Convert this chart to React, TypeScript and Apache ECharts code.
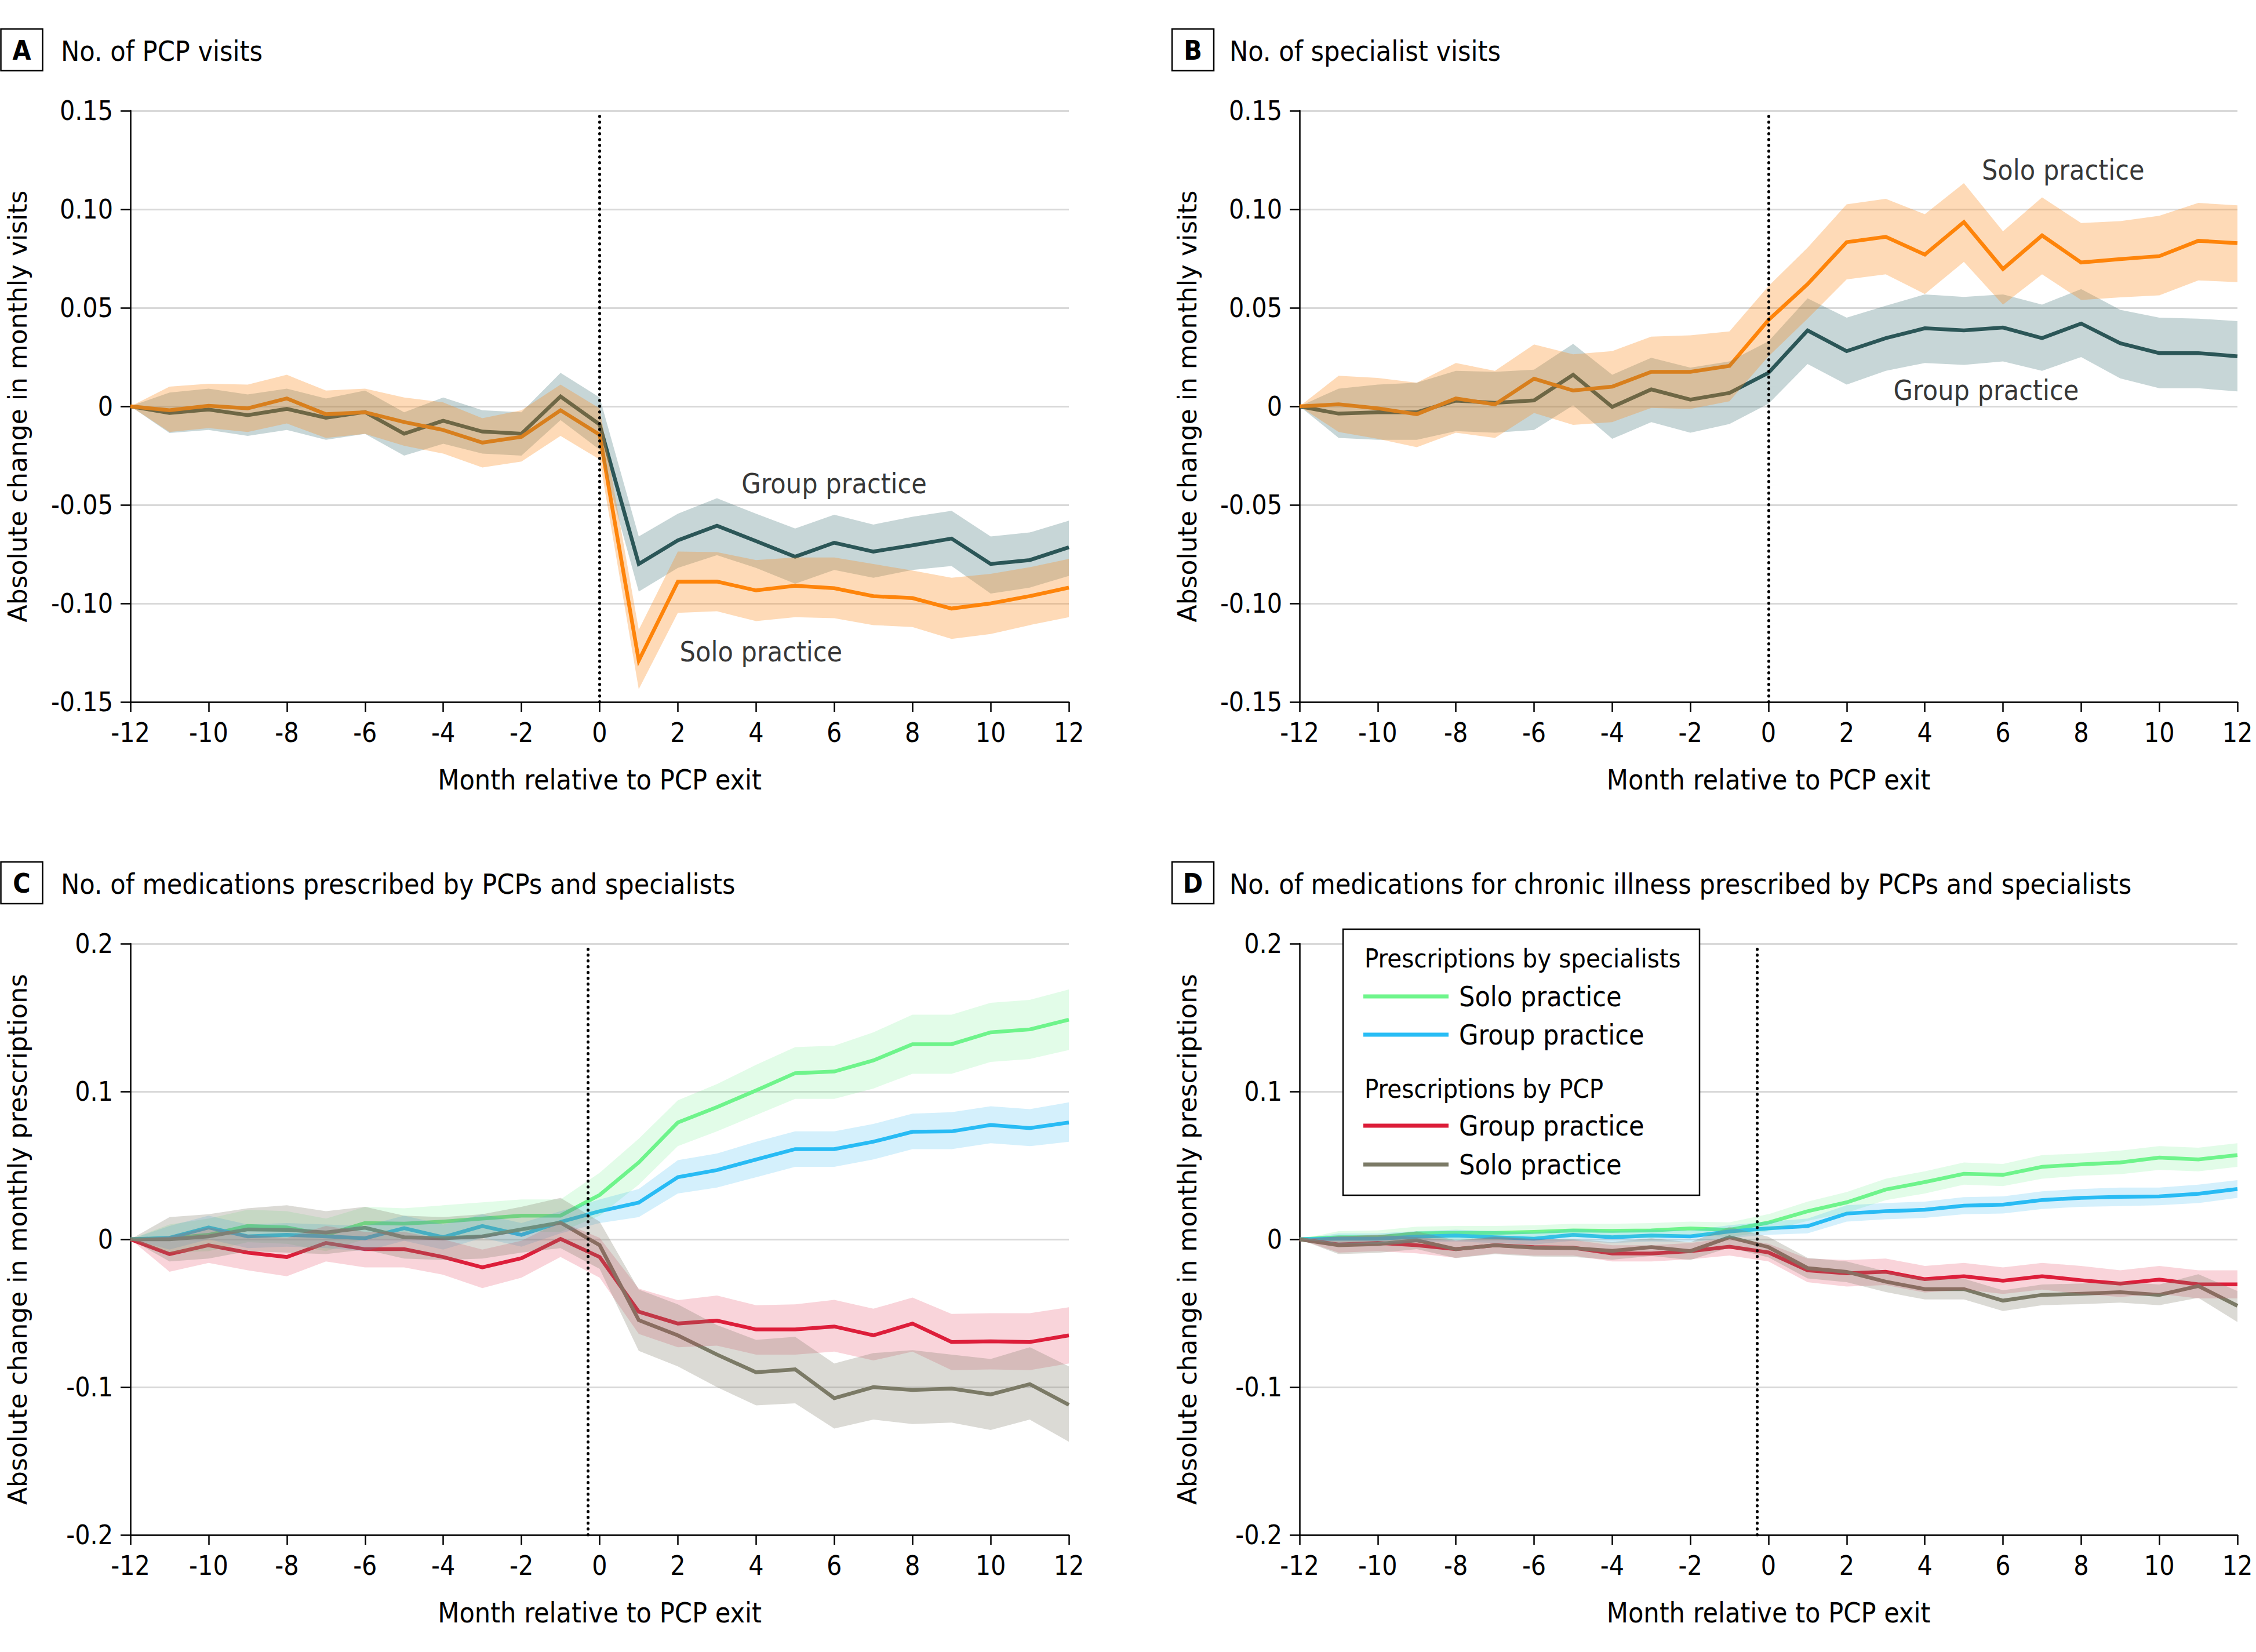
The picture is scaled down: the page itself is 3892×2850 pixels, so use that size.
import React, { useEffect, useRef } from "react";
import * as echarts from "echarts";

const months = [-12, -11, -10, -9, -8, -7, -6, -5, -4, -3, -2, -1, 0, 1, 2, 3, 4, 5, 6, 7, 8, 9, 10, 11, 12];
const xTickLabels = ["-12", "-10", "-8", "-6", "-4", "-2", "0", "2", "4", "6", "8", "10", "12"];
const yTickLabelsAB = ["-0.15", "-0.10", "-0.05", "0", "0.05", "0.10", "0.15"];
const yTickLabelsCD = ["-0.2", "-0.1", "0", "0.1", "0.2"];

// Panel A: PCP visits
const aGroupMean = [0, -0.0034, -0.0016, -0.0045, -0.0013, -0.0058, -0.0029, -0.0139, -0.0073, -0.0128, -0.0139, 0.005, -0.0092, -0.08, -0.068, -0.0606, -0.0684, -0.0763, -0.0692, -0.0737, -0.0705, -0.0671, -0.08, -0.078, -0.0715];
const aGroupUpper = [0, 0.007, 0.009, 0.006, 0.009, 0.004, 0.008, -0.003, 0.0045, -0.002, -0.003, 0.017, 0.0045, -0.066, -0.0545, -0.0466, -0.0545, -0.062, -0.055, -0.06, -0.056, -0.053, -0.066, -0.064, -0.058];
const aGroupLower = [0, -0.0135, -0.012, -0.015, -0.012, -0.017, -0.014, -0.025, -0.019, -0.024, -0.025, -0.007, -0.022, -0.094, -0.082, -0.0755, -0.082, -0.09, -0.083, -0.087, -0.083, -0.081, -0.095, -0.092, -0.086];
const aSoloMean = [0, -0.002, 0.0003, -0.001, 0.004, -0.004, -0.003, -0.008, -0.012, -0.0184, -0.0155, -0.002, -0.0144, -0.129, -0.089, -0.0889, -0.0934, -0.091, -0.0923, -0.0963, -0.0973, -0.1026, -0.1, -0.0963, -0.092];
const aSoloUpper = [0, 0.01, 0.0115, 0.011, 0.016, 0.008, 0.009, 0.0045, 0.002, -0.006, -0.002, 0.011, -0.001, -0.1134, -0.0737, -0.074, -0.078, -0.0767, -0.0767, -0.08, -0.0833, -0.087, -0.085, -0.0816, -0.0774];
const aSoloLower = [0, -0.013, -0.011, -0.013, -0.0087, -0.016, -0.014, -0.02, -0.024, -0.031, -0.028, -0.015, -0.027, -0.1435, -0.1048, -0.104, -0.109, -0.107, -0.1075, -0.111, -0.112, -0.118, -0.1155, -0.111, -0.107];

// Panel B: specialist visits
const bSoloMean = [0, 0.001, -0.001, -0.004, 0.004, 0.001, 0.014, 0.008, 0.01, 0.0175, 0.0175, 0.0205, 0.0438, 0.062, 0.0833, 0.086, 0.077, 0.0935, 0.0697, 0.0867, 0.073, 0.0747, 0.0762, 0.084, 0.0828];
const bSoloUpper = [0, 0.0155, 0.0144, 0.012, 0.022, 0.018, 0.0314, 0.0264, 0.028, 0.0354, 0.036, 0.038, 0.061, 0.0805, 0.1025, 0.1053, 0.0975, 0.1132, 0.0888, 0.106, 0.093, 0.094, 0.0967, 0.1032, 0.102];
const bSoloLower = [0, -0.013, -0.0165, -0.0207, -0.0134, -0.016, -0.0034, -0.0094, -0.008, -0.0008, -0.0013, 0.0026, 0.0254, 0.0445, 0.0644, 0.067, 0.057, 0.0733, 0.0516, 0.067, 0.054, 0.0553, 0.0563, 0.0639, 0.063];
const bGroupMean = [0, -0.0037, -0.003, -0.003, 0.0029, 0.0018, 0.003, 0.016, -0.0003, 0.0086, 0.0034, 0.0068, 0.017, 0.0385, 0.028, 0.0346, 0.0396, 0.0385, 0.04, 0.0346, 0.042, 0.032, 0.027, 0.027, 0.0254];
const bGroupUpper = [0, 0.009, 0.011, 0.012, 0.018, 0.0175, 0.0186, 0.0317, 0.016, 0.0246, 0.0196, 0.0228, 0.033, 0.0548, 0.045, 0.051, 0.0568, 0.0555, 0.0568, 0.0516, 0.0595, 0.049, 0.045, 0.0445, 0.0432];
const bGroupLower = [0, -0.016, -0.017, -0.017, -0.0126, -0.0134, -0.012, 0.0005, -0.0165, -0.008, -0.0134, -0.009, 0.0013, 0.0215, 0.011, 0.018, 0.022, 0.021, 0.0228, 0.018, 0.025, 0.0142, 0.0092, 0.0092, 0.0076];

// Panel C: medications prescribed
const cSpecSoloMean = [0, 0.0007, 0.003, 0.009, 0.008, 0.003, 0.011, 0.0106, 0.012, 0.014, 0.016, 0.016, 0.03, 0.052, 0.079, 0.0894, 0.1007, 0.1124, 0.1135, 0.121, 0.132, 0.132, 0.14, 0.142, 0.1486];
const cSpecSoloUpper = [0, 0.01, 0.014, 0.02, 0.019, 0.014, 0.022, 0.021, 0.023, 0.025, 0.027, 0.027, 0.045, 0.068, 0.094, 0.105, 0.118, 0.13, 0.131, 0.14, 0.152, 0.152, 0.16, 0.162, 0.169];
const cSpecSoloLower = [0, -0.009, -0.008, -0.002, -0.003, -0.008, 0, 0, 0.001, 0.003, 0.005, 0.005, 0.016, 0.037, 0.063, 0.073, 0.084, 0.095, 0.095, 0.102, 0.112, 0.112, 0.12, 0.122, 0.128];
const cSpecGroupMean = [0, 0.001, 0.008, 0.002, 0.003, 0.002, 0.0007, 0.0075, 0.0014, 0.009, 0.003, 0.0117, 0.019, 0.0248, 0.042, 0.0468, 0.054, 0.061, 0.061, 0.066, 0.0727, 0.073, 0.0773, 0.0752, 0.079];
const cSpecGroupUpper = [0, 0.009, 0.016, 0.01, 0.011, 0.01, 0.009, 0.016, 0.01, 0.017, 0.011, 0.019, 0.027, 0.034, 0.0535, 0.058, 0.066, 0.073, 0.073, 0.078, 0.085, 0.086, 0.09, 0.088, 0.0926];
const cSpecGroupLower = [0, -0.007, 0, -0.006, -0.005, -0.006, -0.008, -0.001, -0.007, 0.001, -0.005, 0.004, 0.011, 0.015, 0.031, 0.035, 0.042, 0.049, 0.049, 0.054, 0.061, 0.061, 0.065, 0.063, 0.066];
const cPcpGroupMean = [0, -0.01, -0.004, -0.009, -0.012, -0.0025, -0.0067, -0.0067, -0.012, -0.019, -0.0128, 0.0003, -0.012, -0.049, -0.057, -0.055, -0.061, -0.061, -0.059, -0.065, -0.057, -0.0695, -0.069, -0.0695, -0.065];
const cPcpGroupUpper = [0, 0.002, 0.008, 0.003, 0.001, 0.009, 0.005, 0.005, 0, -0.007, -0.001, 0.012, 0.001, -0.0333, -0.0412, -0.038, -0.0446, -0.044, -0.041, -0.047, -0.0394, -0.0505, -0.05, -0.05, -0.046];
const cPcpGroupLower = [0, -0.022, -0.016, -0.021, -0.025, -0.015, -0.019, -0.019, -0.024, -0.033, -0.026, -0.012, -0.026, -0.064, -0.073, -0.072, -0.078, -0.078, -0.076, -0.082, -0.076, -0.0885, -0.088, -0.0885, -0.084];
const cPcpSoloMean = [0, 0, 0.002, 0.0067, 0.0064, 0.0046, 0.0078, 0.0014, 0.0007, 0.002, 0.0067, 0.0113, -0.004, -0.0547, -0.065, -0.078, -0.09, -0.088, -0.1075, -0.1, -0.102, -0.101, -0.105, -0.098, -0.112];
const cPcpSoloUpper = [0, 0.015, 0.017, 0.021, 0.023, 0.019, 0.022, 0.016, 0.015, 0.017, 0.022, 0.028, 0.012, -0.034, -0.044, -0.058, -0.068, -0.066, -0.084, -0.077, -0.075, -0.078, -0.081, -0.073, -0.086];
const cPcpSoloLower = [0, -0.015, -0.013, -0.008, -0.009, -0.01, -0.007, -0.013, -0.014, -0.013, -0.009, -0.006, -0.02, -0.0755, -0.086, -0.1, -0.1124, -0.111, -0.128, -0.122, -0.125, -0.124, -0.129, -0.122, -0.137];

// Panel D: medications for chronic illness
const dSpecSoloMean = [0, 0.0014, 0.0014, 0.004, 0.0043, 0.0043, 0.005, 0.006, 0.0057, 0.006, 0.0074, 0.0064, 0.0113, 0.019, 0.025, 0.0337, 0.0387, 0.0443, 0.0436, 0.049, 0.0507, 0.052, 0.0553, 0.054, 0.057];
const dSpecSoloUpper = [0, 0.0055, 0.006, 0.0085, 0.009, 0.009, 0.0095, 0.0105, 0.0105, 0.011, 0.012, 0.0115, 0.017, 0.0255, 0.032, 0.041, 0.046, 0.052, 0.051, 0.057, 0.058, 0.06, 0.063, 0.062, 0.065];
const dSpecSoloLower = [0, -0.0025, -0.003, -0.0005, -0.0005, -0.0005, 0.0005, 0.0015, 0.001, 0.001, 0.003, 0.0015, 0.0055, 0.0125, 0.018, 0.0265, 0.031, 0.037, 0.036, 0.041, 0.043, 0.044, 0.047, 0.046, 0.049];
const dSpecGroupMean = [0, 0.0004, 0.0004, 0.0018, 0.0025, 0.0014, 0.0004, 0.003, 0.0014, 0.0025, 0.002, 0.0053, 0.0074, 0.0089, 0.0174, 0.019, 0.02, 0.0227, 0.0234, 0.0266, 0.028, 0.0287, 0.029, 0.0308, 0.034];
const dSpecGroupUpper = [0, 0.004, 0.004, 0.0055, 0.0065, 0.0055, 0.0045, 0.007, 0.0055, 0.0065, 0.006, 0.0095, 0.012, 0.014, 0.023, 0.0245, 0.0255, 0.0285, 0.029, 0.0325, 0.034, 0.035, 0.035, 0.037, 0.04];
const dSpecGroupLower = [0, -0.003, -0.003, -0.002, -0.0015, -0.0025, -0.0035, -0.001, -0.0025, -0.0015, -0.002, 0.001, 0.003, 0.004, 0.012, 0.0135, 0.0145, 0.017, 0.0175, 0.0205, 0.022, 0.0225, 0.023, 0.0245, 0.028];
const dPcpGroupMean = [0, -0.0035, -0.0025, -0.004, -0.0067, -0.004, -0.0053, -0.0057, -0.0096, -0.0096, -0.008, -0.005, -0.0089, -0.021, -0.023, -0.022, -0.027, -0.025, -0.028, -0.025, -0.0277, -0.03, -0.0273, -0.0305, -0.0305];
const dPcpGroupUpper = [0, 0.002, 0.003, 0.0015, -0.001, 0.0015, 0, -0.0005, -0.004, -0.004, -0.0025, 0.001, -0.003, -0.013, -0.014, -0.013, -0.018, -0.016, -0.019, -0.016, -0.018, -0.021, -0.018, -0.021, -0.021];
const dPcpGroupLower = [0, -0.009, -0.008, -0.0095, -0.0125, -0.0095, -0.011, -0.011, -0.015, -0.015, -0.0135, -0.011, -0.015, -0.029, -0.032, -0.031, -0.036, -0.034, -0.037, -0.034, -0.037, -0.039, -0.037, -0.04, -0.04];
const dPcpSoloMean = [0, -0.004, -0.0032, -0.0007, -0.0067, -0.004, -0.0057, -0.006, -0.0078, -0.0053, -0.008, 0.0014, -0.0053, -0.0195, -0.022, -0.0287, -0.0337, -0.0337, -0.0415, -0.0376, -0.0369, -0.0358, -0.0376, -0.0316, -0.045];
const dPcpSoloUpper = [0, 0.002, 0.0028, 0.0053, -0.0007, 0.002, 0.0003, 0, -0.0018, 0.0007, -0.002, 0.0084, 0.0017, -0.0125, -0.015, -0.0217, -0.0267, -0.0267, -0.0345, -0.0306, -0.0299, -0.0288, -0.0306, -0.0236, -0.035];
const dPcpSoloLower = [0, -0.01, -0.0092, -0.0067, -0.0127, -0.01, -0.0117, -0.012, -0.0138, -0.0113, -0.014, -0.0056, -0.0123, -0.0265, -0.029, -0.0357, -0.0407, -0.0407, -0.0485, -0.0446, -0.0439, -0.0428, -0.0446, -0.0396, -0.056];

// exit reference line positions (month) and annotations (data coordinates)
const exitLineMonth = [0, 0, -0.3, -0.3];
const annotationsA = [
  { text: "Group practice", month: 3.62, value: -0.039 },
  { text: "Solo practice", month: 2.04, value: -0.1244 },
];
const annotationsB = [
  { text: "Solo practice", month: 5.45, value: 0.12 },
  { text: "Group practice", month: 3.19, value: 0.0082 },
];

const panelTitles = [
  "No. of PCP visits",
  "No. of specialist visits",
  "No. of medications prescribed by PCPs and specialists",
  "No. of medications for chronic illness prescribed by PCPs and specialists",
];
const panelLetters = ["A", "B", "C", "D"];
const yTitles = [
  "Absolute change in monthly visits",
  "Absolute change in monthly visits",
  "Absolute change in monthly prescriptions",
  "Absolute change in monthly prescriptions",
];
const xTitle = "Month relative to PCP exit";

const FONT_C = '"DejaVu Sans Condensed", "Liberation Sans Narrow", sans-serif';
const FONT_W = '"DejaVu Sans", Verdana, sans-serif';

const ORANGE = "#ff8000";
const ORANGE_BAND = "rgba(253,140,30,0.32)";
const TEAL = "#2a5050";
const TEAL_BAND = "rgba(47,105,108,0.27)";
const GREEN = "#6ef58b";
const GREEN_BAND = "rgba(110,240,140,0.2)";
const BLUE = "#28bdf5";
const BLUE_BAND = "rgba(40,180,240,0.2)";
const RED = "#dc1c38";
const RED_BAND = "rgba(225,40,70,0.2)";
const GRAY = "#7b7a66";
const GRAY_BAND = "rgba(125,123,104,0.28)";

const GRIDS = [
  { left: 225, top: 191, width: 1619, height: 1020 },
  { left: 2242, top: 191, width: 1618, height: 1020 },
  { left: 225, top: 1628, width: 1619, height: 1020 },
  { left: 2242, top: 1628, width: 1618, height: 1020 },
];

type Ser = { name: string; color: string; band: string; mean: number[]; upper: number[]; lower: number[] };

const panelSeries: Ser[][] = [
  [
    { name: "Group practice", color: TEAL, band: TEAL_BAND, mean: aGroupMean, upper: aGroupUpper, lower: aGroupLower },
    { name: "Solo practice", color: ORANGE, band: ORANGE_BAND, mean: aSoloMean, upper: aSoloUpper, lower: aSoloLower },
  ],
  [
    { name: "Group practice", color: TEAL, band: TEAL_BAND, mean: bGroupMean, upper: bGroupUpper, lower: bGroupLower },
    { name: "Solo practice", color: ORANGE, band: ORANGE_BAND, mean: bSoloMean, upper: bSoloUpper, lower: bSoloLower },
  ],
  [
    { name: "Spec solo", color: GREEN, band: GREEN_BAND, mean: cSpecSoloMean, upper: cSpecSoloUpper, lower: cSpecSoloLower },
    { name: "Spec group", color: BLUE, band: BLUE_BAND, mean: cSpecGroupMean, upper: cSpecGroupUpper, lower: cSpecGroupLower },
    { name: "PCP group", color: RED, band: RED_BAND, mean: cPcpGroupMean, upper: cPcpGroupUpper, lower: cPcpGroupLower },
    { name: "PCP solo", color: GRAY, band: GRAY_BAND, mean: cPcpSoloMean, upper: cPcpSoloUpper, lower: cPcpSoloLower },
  ],
  [
    { name: "Spec solo", color: GREEN, band: GREEN_BAND, mean: dSpecSoloMean, upper: dSpecSoloUpper, lower: dSpecSoloLower },
    { name: "Spec group", color: BLUE, band: BLUE_BAND, mean: dSpecGroupMean, upper: dSpecGroupUpper, lower: dSpecGroupLower },
    { name: "PCP group", color: RED, band: RED_BAND, mean: dPcpGroupMean, upper: dPcpGroupUpper, lower: dPcpGroupLower },
    { name: "PCP solo", color: GRAY, band: GRAY_BAND, mean: dPcpSoloMean, upper: dPcpSoloUpper, lower: dPcpSoloLower },
  ],
];

function buildOption() {
  const series: any[] = [];
  panelSeries.forEach((list, g) => {
    // exit dotted line (beneath lines and bands)
    series.push({
      type: "line",
      xAxisIndex: g,
      yAxisIndex: g,
      data: [],
      z: 1,
      silent: true,
      markLine: {
        silent: true,
        symbol: ["none", "none"],
        label: { show: false },
        lineStyle: { type: [0.5, 9.5], color: "#000", width: 5, cap: "round" },
        data: [{ xAxis: exitLineMonth[g] }],
      },
    });
    // lines
    list.forEach((s) => {
      series.push({
        type: "line",
        name: s.name,
        xAxisIndex: g,
        yAxisIndex: g,
        data: months.map((m, i) => [m, s.mean[i]]),
        symbol: "none",
        silent: true,
        z: 2,
        lineStyle: { color: s.color, width: 6.5, join: "miter" },
      });
    });
    // confidence bands drawn on top, as polygons through the axes' scales
    list.forEach((s) => {
      series.push({
        type: "custom",
        coordinateSystem: "cartesian2d",
        xAxisIndex: g,
        yAxisIndex: g,
        silent: true,
        z: 3,
        data: [[months[0], s.mean[0]]],
        renderItem: (_params: any, api: any) => {
          const pts: number[][] = [];
          for (let i = 0; i < months.length; i++) pts.push(api.coord([months[i], s.upper[i]]));
          for (let i = months.length - 1; i >= 0; i--) pts.push(api.coord([months[i], s.lower[i]]));
          return {
            type: "polygon",
            shape: { points: pts },
            style: { fill: s.band, stroke: "none" },
          };
        },
      });
    });
  });

  const annos = [annotationsA, annotationsB];
  annos.forEach((list, g) => {
    list.forEach((a) => {
      series.push({
        type: "scatter",
        xAxisIndex: g,
        yAxisIndex: g,
        symbolSize: 1,
        itemStyle: { color: "rgba(0,0,0,0)" },
        silent: true,
        z: 5,
        data: [[a.month, a.value]],
        label: {
          show: true,
          position: "right",
          distance: 0,
          formatter: a.text,
          fontFamily: FONT_C,
          fontSize: 48,
          color: "#000",
        },
      });
    });
  });

  const xAxis = GRIDS.map((_, g) => ({
    type: "value",
    gridIndex: g,
    min: -12,
    max: 12,
    interval: 2,
    axisLine: { show: true, onZero: false, lineStyle: { color: "#000", width: 2.5 } },
    axisTick: { show: true, length: 17, lineStyle: { color: "#000", width: 2.5 } },
    axisLabel: {
      fontFamily: FONT_C,
      fontSize: 46,
      color: "#000",
      margin: 30,
      formatter: (v: number) => xTickLabels[Math.round((v + 12) / 2)] ?? String(v),
    },
    splitLine: { show: false },
  }));

  const yAxis = GRIDS.map((_, g) => {
    const ab = g < 2;
    const min = ab ? -0.15 : -0.2;
    const max = ab ? 0.15 : 0.2;
    const interval = ab ? 0.05 : 0.1;
    const labels = ab ? yTickLabelsAB : yTickLabelsCD;
    return {
      type: "value",
      gridIndex: g,
      min,
      max,
      interval,
      axisLine: { show: true, onZero: false, lineStyle: { color: "#000", width: 2.5 } },
      axisTick: { show: true, length: 17, lineStyle: { color: "#000", width: 2.5 } },
      axisLabel: {
        fontFamily: FONT_C,
        fontSize: 46,
        color: "#000",
        margin: 30,
        formatter: (v: number) => labels[Math.round((v - min) / interval)] ?? String(v),
      },
      splitLine: { show: true, lineStyle: { color: "#d9d9d9", width: 3 } },
    };
  });

  const graphic: any[] = [];
  const letterBoxes = [
    { x: 1.5, y: 50, tx: 105 },
    { x: 2022, y: 50, tx: 2121 },
    { x: 1.5, y: 1487, tx: 105 },
    { x: 2022, y: 1487, tx: 2121 },
  ];
  letterBoxes.forEach((b, g) => {
    graphic.push({
      type: "rect",
      shape: { x: b.x, y: b.y, width: 72, height: 72 },
      style: { fill: "#fff", stroke: "#000", lineWidth: 2.5 },
    });
    graphic.push({
      type: "text",
      x: b.x + 36,
      y: b.y + 37,
      style: {
        text: panelLetters[g],
        fontFamily: FONT_C,
        fontWeight: "bold",
        fontSize: 46,
        fill: "#000",
        align: "center",
        verticalAlign: "middle",
      },
    });
    graphic.push({
      type: "text",
      x: b.tx,
      y: b.y + 38,
      style: {
        text: panelTitles[g],
        fontFamily: FONT_C,
        fontSize: 48,
        fill: "#000",
        align: "left",
        verticalAlign: "middle",
      },
    });
  });

  GRIDS.forEach((gr, g) => {
    graphic.push({
      type: "text",
      x: g % 2 === 0 ? 30 : 2048,
      y: gr.top + gr.height / 2,
      rotation: Math.PI / 2,
      style: {
        text: yTitles[g],
        fontFamily: FONT_W,
        fontSize: 44,
        fill: "#000",
        align: "center",
        verticalAlign: "middle",
      },
    });
    graphic.push({
      type: "text",
      x: gr.left + gr.width / 2,
      y: gr.top + gr.height + 134,
      style: {
        text: xTitle,
        fontFamily: FONT_C,
        fontSize: 48,
        fill: "#000",
        align: "center",
        verticalAlign: "middle",
      },
    });
  });

  // Legend in panel D
  const lg = { x: 2317, y: 1603, w: 615, h: 459 };
  graphic.push({
    type: "rect",
    z: 10,
    shape: { x: lg.x, y: lg.y, width: lg.w, height: lg.h },
    style: { fill: "#fff", stroke: "#000", lineWidth: 2.5 },
  });
  const legendRows = [
    { kind: "head", text: "Prescriptions by specialists", y: 1653 },
    { kind: "item", text: "Solo practice", color: GREEN, y: 1719 },
    { kind: "item", text: "Group practice", color: BLUE, y: 1785 },
    { kind: "head", text: "Prescriptions by PCP", y: 1878 },
    { kind: "item", text: "Group practice", color: RED, y: 1942 },
    { kind: "item", text: "Solo practice", color: GRAY, y: 2009 },
  ];
  legendRows.forEach((r: any) => {
    if (r.kind === "head") {
      graphic.push({
        type: "text",
        z: 11,
        x: 2354,
        y: r.y,
        style: { text: r.text, fontFamily: FONT_C, fontSize: 45, fill: "#000", align: "left", verticalAlign: "middle" },
      });
    } else {
      graphic.push({
        type: "line",
        z: 11,
        shape: { x1: 2352, y1: r.y, x2: 2499, y2: r.y },
        style: { stroke: r.color, lineWidth: 7 },
      });
      graphic.push({
        type: "text",
        z: 11,
        x: 2517,
        y: r.y,
        style: { text: r.text, fontFamily: FONT_C, fontSize: 48, fill: "#000", align: "left", verticalAlign: "middle" },
      });
    }
  });

  return {
    animation: false,
    backgroundColor: "#fff",
    grid: GRIDS.map((g) => ({ ...g, containLabel: false })),
    xAxis,
    yAxis,
    series,
    graphic,
  };
}

export default function App() {
  const ref = useRef<HTMLDivElement>(null);
  useEffect(() => {
    document.body.style.margin = "0";
    if (!ref.current) return;
    const chart = echarts.init(ref.current, undefined, { renderer: "svg" });
    chart.setOption(buildOption() as any);
    return () => chart.dispose();
  }, []);
  return (
    <div
      ref={ref}
      style={{ position: "absolute", left: 0, top: 0, width: 3892, height: 2850, background: "#fff" }}
    />
  );
}
